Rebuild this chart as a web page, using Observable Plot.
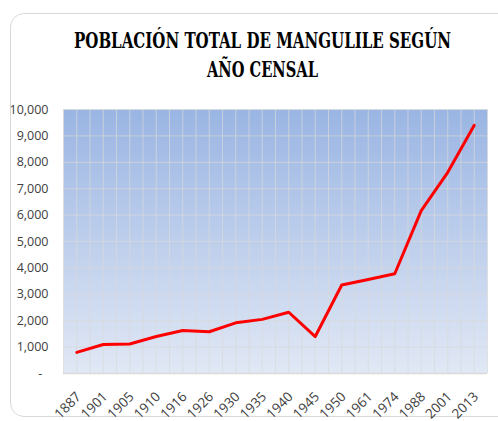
<!DOCTYPE html>
<html><head><meta charset="utf-8">
<script src="https://cdn.jsdelivr.net/npm/d3@7"></script>
<script src="https://cdn.jsdelivr.net/npm/@observablehq/plot@0.6"></script>
<style>
body{margin:0;background:#fff;width:498px;height:421px;overflow:hidden;position:relative;}
#frame{position:absolute;left:10px;top:13px;width:520px;height:402px;border:1px solid #d9d9d9;border-radius:14px;}
#title{position:absolute;left:0;width:525px;top:25px;text-align:center;font-family:"DejaVu Serif",serif;font-stretch:condensed;font-weight:bold;font-size:23px;line-height:29px;color:#000;}
#title span{display:inline-block;white-space:nowrap;transform-origin:center;}
#chart{position:absolute;left:0;top:0;}
</style>
</head><body>
<div id="frame"></div>
<div id="chart"></div>
<div id="title"><span id="t1">POBLACIÓN TOTAL DE MANGULILE SEGÚN</span><br><span id="t2">AÑO CENSAL</span></div>
<script>
const years = ["1887","1901","1905","1910","1916","1926","1930","1935","1940","1945","1950","1961","1974","1988","2001","2013"];
const population = [800,1100,1120,1400,1630,1580,1920,2050,2320,1400,3350,3560,3780,6170,7620,9400];
const yTicks = [0,1000,2000,3000,4000,5000,6000,7000,8000,9000,10000];

const idx = years.map((d,i)=>i);
const gridX = d3.range(-0.5, years.length, 0.5);

const chart = Plot.plot({
  width: 498, height: 421,
  marginLeft: 63, marginRight: 11, marginTop: 109, marginBottom: 48,
  style: {fontFamily: "'Liberation Sans Narrow','Open Sans',sans-serif", fontSize: "12.5px", color: "#404040", background: "transparent"},
  x: {type: "linear", domain: [-0.5, years.length - 0.5], label: null, axis: null},
  y: {domain: [0, 10000], ticks: yTicks, tickFormat: d => d === 0 ? "-\u2002" : d3.format(",")(d), tickSize: 0, tickPadding: 15, label: null},
  marks: [
    Plot.frame({fill: "url(#bgGrad)", stroke: null}),
    Plot.ruleX(gridX, {stroke: "#d9d9d9", strokeOpacity: 0.7, strokeWidth: 1}),
    Plot.ruleY(yTicks.slice(1), {stroke: "#d9d9d9", strokeOpacity: 0.7, strokeWidth: 1}),
    Plot.ruleY([0], {stroke: "#d9d9d9", strokeWidth: 1.5}),
    Plot.lineY(population, {x: (d, i) => idx[i], y: d => d, stroke: "#ff0000", strokeWidth: 3}),
    Plot.axisX(idx, {tickFormat: i => years[i], tickRotate: -45, tickSize: 0, tickPadding: 6, dy: 15, dx: 2, label: null, fontSize: 13.5})
  ]
});

const ns = "http://www.w3.org/2000/svg";
const defs = document.createElementNS(ns, "defs");
defs.innerHTML = '<linearGradient id="bgGrad" x1="0" y1="0" x2="0" y2="1"><stop offset="0" stop-color="#9ab5e3"/><stop offset="1" stop-color="#e1e8f5"/></linearGradient>';
chart.insertBefore(defs, chart.firstChild);
document.getElementById("chart").appendChild(chart);

function fit(id, w) {
  const el = document.getElementById(id);
  const cw = el.getBoundingClientRect().width;
  el.style.transform = `scaleX(${w / cw})`;
}
fit("t1", 377);
fit("t2", 111);
</script>
</body></html>
